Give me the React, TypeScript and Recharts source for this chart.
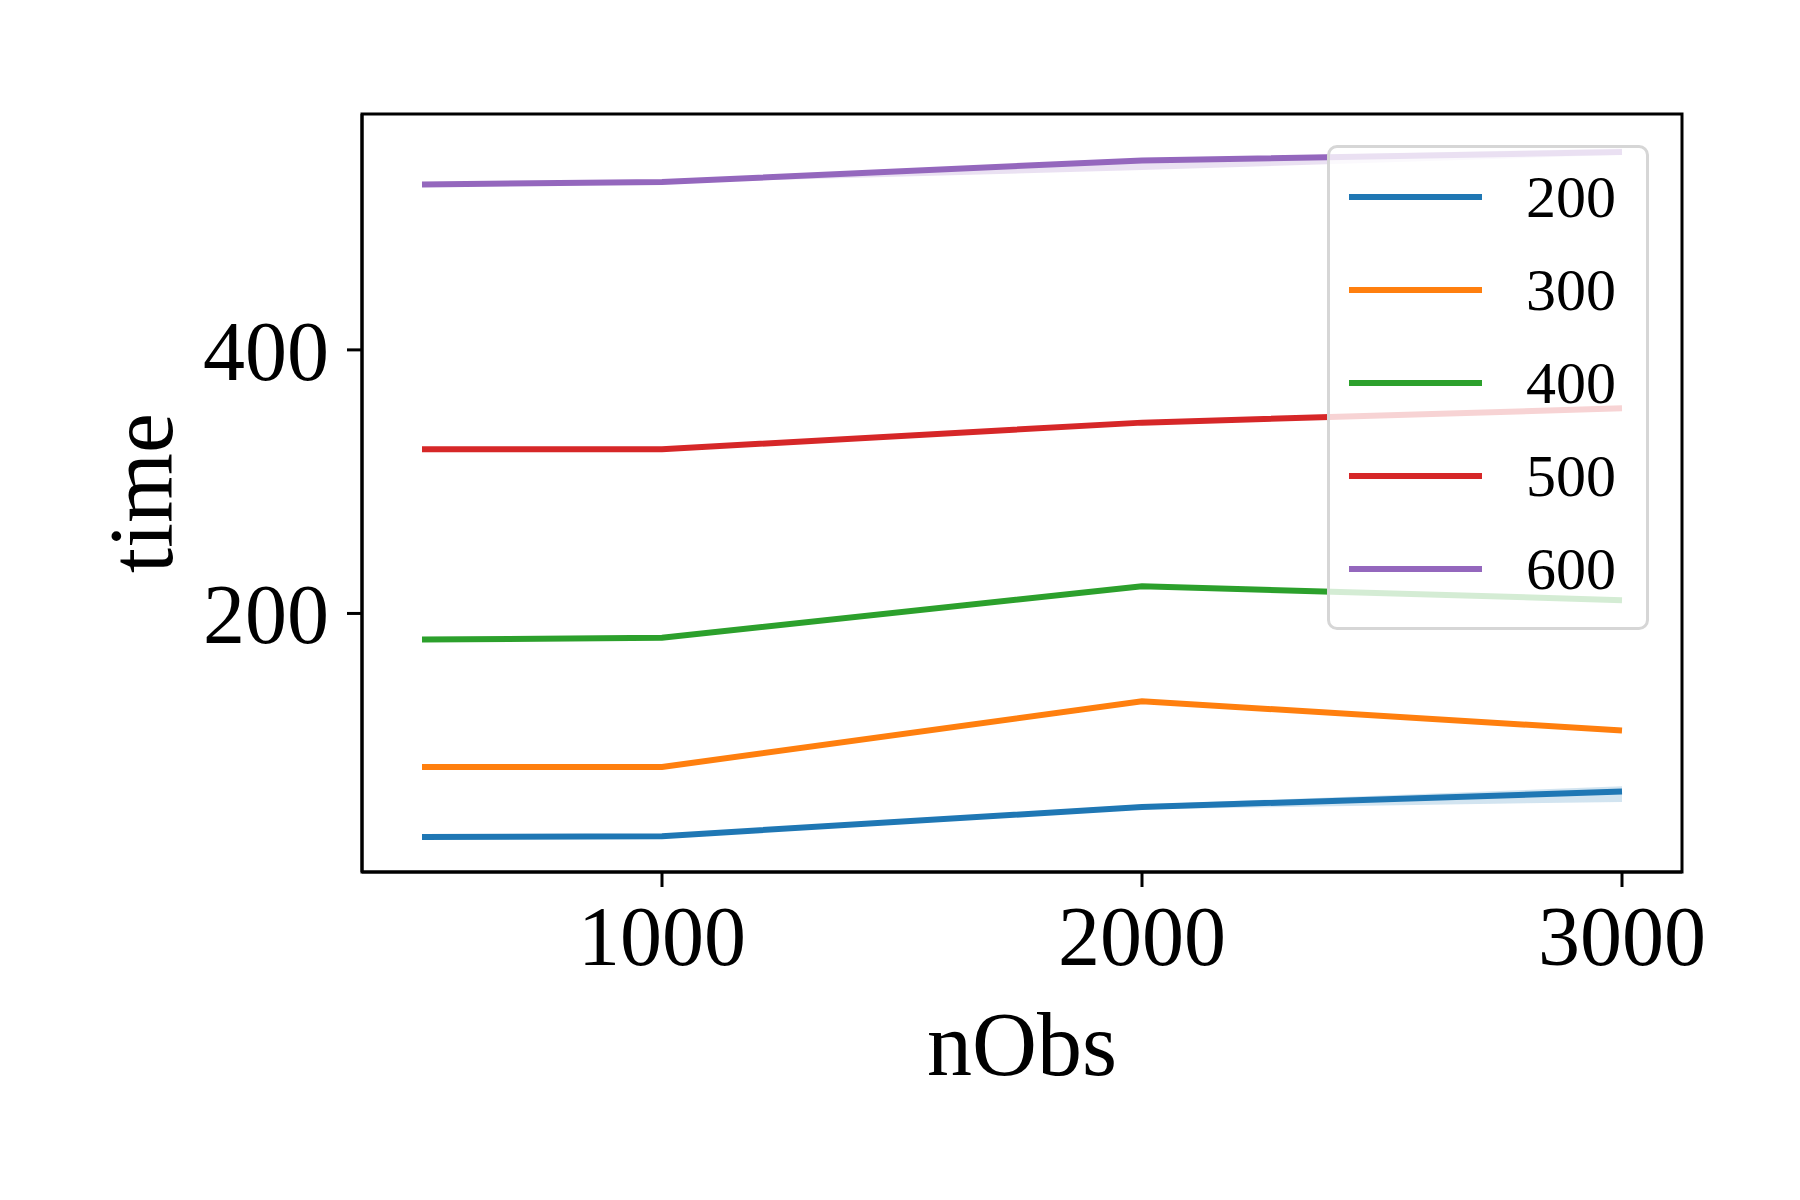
import React from "react";
import {
  ComposedChart,
  Line,
  Area,
  XAxis,
  YAxis,
  Legend,
  ReferenceArea,
  Label,
} from "recharts";

const nObs = [500, 1000, 2000, 3000];
const seriesNames = ["200", "300", "400", "500", "600"];
const seriesColors = ["#1f77b4", "#ff7f0e", "#2ca02c", "#d62728", "#9467bd"];

const time200 = [30.4, 31.0, 53.1, 64.8];
const time300 = [83.5, 83.5, 133.4, 111.1];
const time400 = [180.2, 181.5, 220.7, 210.1];
const time500 = [324.6, 324.6, 344.8, 355.7];
const time600 = [525.5, 527.4, 543.8, 550.1];

// confidence band (low, high) per point
const band200 = [[29.6, 31.2], [30.2, 31.8], [51.5, 55.0], [57.0, 68.8]];
const band300 = [[82.8, 84.2], [82.8, 84.2], [132.4, 134.4], [110.0, 112.2]];
const band400 = [[179.5, 180.9], [180.8, 182.2], [219.6, 221.8], [209.0, 211.2]];
const band500 = [[323.9, 325.3], [323.9, 325.3], [343.6, 346.0], [354.2, 357.2]];
const band600 = [[524.8, 526.2], [526.6, 528.2], [536.5, 545.0], [548.0, 553.0]];

const xTicks = [1000, 2000, 3000];
const yTicks = [200, 400];
const xDomain = [375, 3125];
const yDomain = [3.8, 579];

const values = [time200, time300, time400, time500, time600];
const bands = [band200, band300, band400, band500, band600];

const data = nObs.map((x, i) => {
  const row: Record<string, any> = { nObs: x };
  seriesNames.forEach((name, s) => {
    row["t" + name] = values[s][i];
    row["b" + name] = bands[s][i];
  });
  return row;
});

const serif = "'Liberation Serif', 'DejaVu Serif', serif";

function LegendBox({ payload }: any) {
  const items = (payload || []).filter((p: any) => p.type !== "none");
  return (
    <div
      style={{
        boxSizing: "border-box",
        width: 322,
        height: 485,
        border: "3px solid #d6d6d6",
        borderRadius: 10,
        background: "rgba(255,255,255,0.8)",
        paddingTop: 2,
        fontFamily: serif,
      }}
    >
      {items.map((p: any) => (
        <div
          key={p.value}
          style={{ height: 93, display: "flex", alignItems: "center" }}
        >
          <div
            style={{
              marginLeft: 19,
              width: 133,
              height: 6,
              background: p.color,
            }}
          />
          <span style={{ marginLeft: 44, fontSize: 60, lineHeight: "60px", color: "#000" }}>
            {p.value}
          </span>
        </div>
      ))}
    </div>
  );
}

export default function App() {
  return (
    <div style={{ width: 1800, height: 1200, background: "#fff" }}>
      <style>{`body{margin:0}`}</style>
      <ComposedChart
        width={1800}
        height={1200}
        data={data}
        margin={{ top: 114, right: 118, left: 0, bottom: 0 }}
      >
        <XAxis
          dataKey="nObs"
          type="number"
          domain={xDomain}
          ticks={xTicks}
          height={328}
          tickSize={15}
          tickMargin={18}
          axisLine={{ stroke: "#000", strokeWidth: 3 }}
          tickLine={{ stroke: "#000", strokeWidth: 3 }}
          tick={{ fill: "#000", fontSize: 84, fontFamily: serif }}
          allowDataOverflow
        >
          <Label
            value="nObs"
            position="insideBottom"
            offset={125}
            style={{ fontSize: 90, fontFamily: serif, fill: "#000" }}
          />
        </XAxis>
        <YAxis
          type="number"
          domain={yDomain}
          ticks={yTicks}
          width={362}
          tickSize={15}
          tickMargin={18}
          axisLine={{ stroke: "#000", strokeWidth: 3 }}
          tickLine={{ stroke: "#000", strokeWidth: 3 }}
          tick={{ fill: "#000", fontSize: 84, fontFamily: serif }}
          allowDataOverflow
        >
          <Label
            value="time"
            angle={-90}
            position="insideLeft"
            offset={140}
            style={{ fontSize: 90, fontFamily: serif, fill: "#000", textAnchor: "middle" }}
          />
        </YAxis>
        {seriesNames.map((name, s) => (
          <Area
            key={"b" + name}
            dataKey={"b" + name}
            type="linear"
            stroke="none"
            fill={seriesColors[s]}
            fillOpacity={0.2}
            legendType="none"
            isAnimationActive={false}
            activeDot={false}
          />
        ))}
        {seriesNames.map((name, s) => (
          <Line
            key={"t" + name}
            dataKey={"t" + name}
            name={name}
            type="linear"
            stroke={seriesColors[s]}
            strokeWidth={6}
            dot={false}
            activeDot={false}
            isAnimationActive={false}
          />
        ))}
        <ReferenceArea
          x1={xDomain[0]}
          x2={xDomain[1]}
          y1={yDomain[0]}
          y2={yDomain[1]}
          fill="none"
          stroke="#000"
          strokeWidth={3}
        />
        <Legend
          layout="horizontal"
          align="center"
          verticalAlign="middle"
          content={<LegendBox />}
          wrapperStyle={{ position: "absolute", left: 1327, top: 145, width: 322, height: 485 }}
        />
      </ComposedChart>
    </div>
  );
}
